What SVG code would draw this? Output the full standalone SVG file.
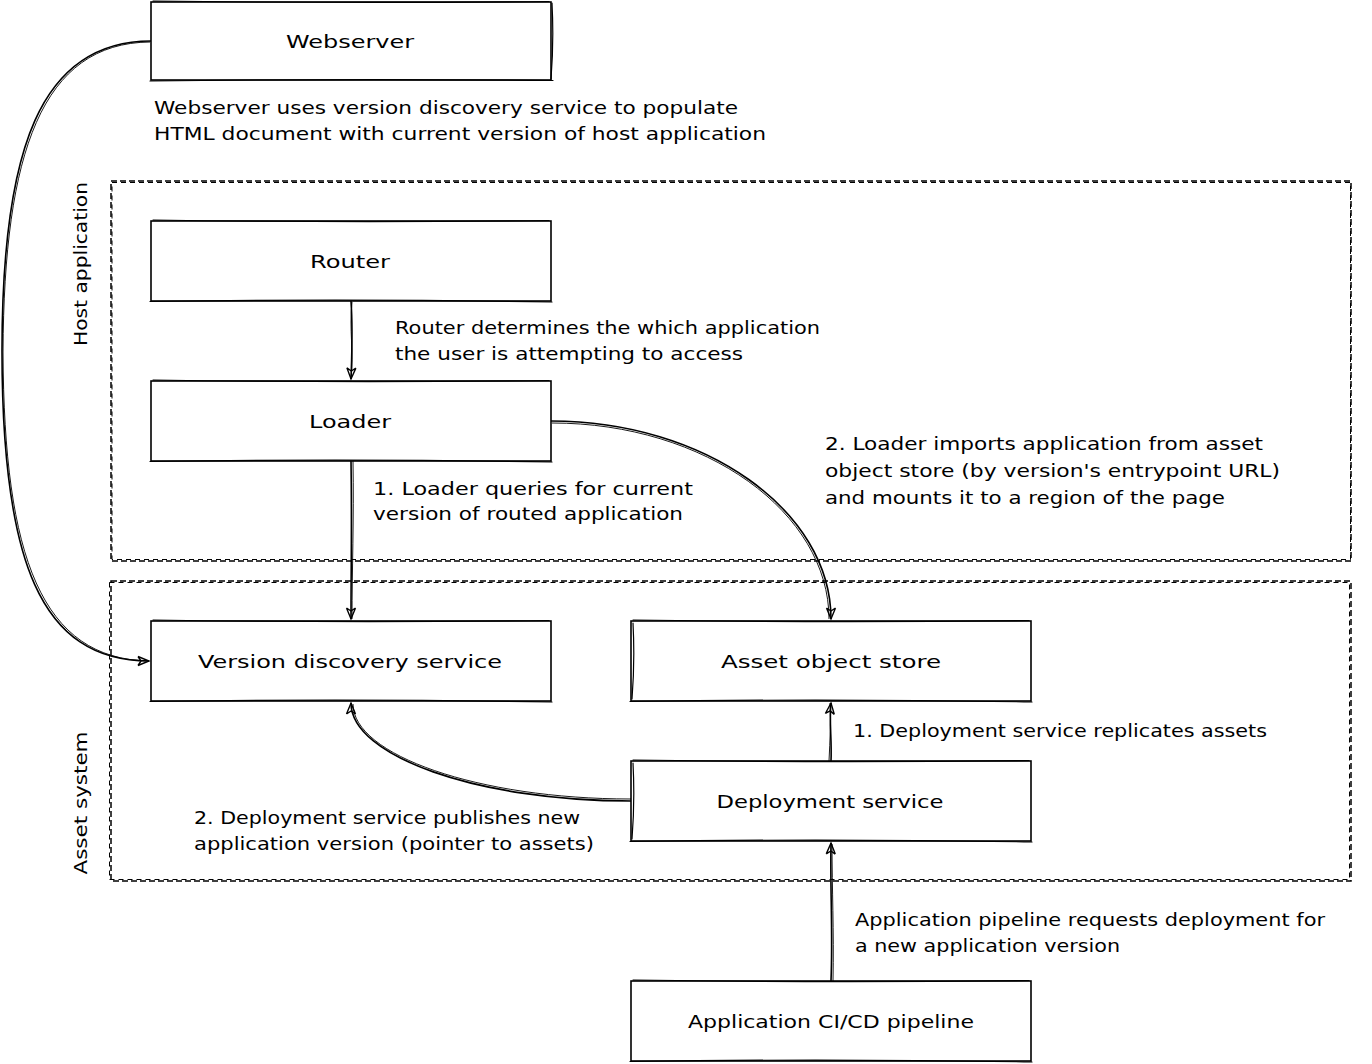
<svg xmlns="http://www.w3.org/2000/svg" width="1372" height="1064" viewBox="0 0 1372 1064">
<style>
.bg{fill:#fff}
.box{fill:#fff;stroke:#000;stroke-width:1.6}
.sk{fill:none;stroke:#000;stroke-width:1.2;stroke-linecap:round}
.grp{fill:none;stroke:#000;stroke-width:1.5;stroke-dasharray:6 3}
.grp2{fill:none;stroke:#000;stroke-width:1;stroke-dasharray:5 4}
.edge{fill:none;stroke:#000;stroke-width:1.6}
.edge2{fill:none;stroke:#000;stroke-width:0.9}
.t{font-family:"DejaVu Sans","Liberation Sans",sans-serif;font-size:18px;fill:#000}
.c{text-anchor:middle}
</style>
<defs>
<marker id="arr" markerUnits="userSpaceOnUse" markerWidth="14" markerHeight="14" viewBox="0 0 14 14" refX="12" refY="7" orient="auto">
<path d="M1,2.5 L12,7 L1,11.5 M1,2.5 L4,7 L1,11.5" fill="none" stroke="#000" stroke-width="1.4" stroke-linejoin="miter"/>
</marker>
</defs>
<rect class="bg" x="0" y="0" width="1372" height="1064"/>

<g id="group-host">
<rect class="grp" x="111" y="181" width="1240" height="380"/>
<rect class="grp2" x="112" y="182.5" width="1238.5" height="377"/>
<text class="t c" x="87" y="264" transform="rotate(-90 87 264)" textLength="164" lengthAdjust="spacingAndGlyphs">Host application</text>
</g>
<g id="group-asset">
<rect class="grp" x="111" y="581" width="1240" height="300"/>
<rect class="grp2" x="109.5" y="582.5" width="1240" height="297"/>
<text class="t c" x="87" y="803" transform="rotate(-90 87 803)" textLength="143" lengthAdjust="spacingAndGlyphs">Asset system</text>
</g>

<g id="connectors">
<path class="edge" d="M151,41 C40,41 2,150 2,351 C2,560 40,661 149,661" marker-end="url(#arr)"/>
<path class="edge2" d="M150,42 C42,43 4,152 3,352 C4,558 42,659 149,661"/>
<path class="edge" d="M351,301 C353,330 352,350 351,379" marker-end="url(#arr)"/>
<path class="edge2" d="M352,302 C349,330 354,352 351,379"/>
<path class="edge" d="M351,461 C352,520 351,570 351,619" marker-end="url(#arr)"/>
<path class="edge2" d="M353,461 C354,520 352,570 352,619"/>
<path class="edge" d="M551,421 C705,421 831,511 831,619" marker-end="url(#arr)"/>
<path class="edge2" d="M552,423 C706,423 829,513 829,619"/>
<path class="edge" d="M831,761 C832,740 829,722 831,703" marker-end="url(#arr)"/>
<path class="edge2" d="M829,761 C830,740 831,722 830,703"/>
<path class="edge" d="M631,801 C477,801 351,756 351,703" marker-end="url(#arr)"/>
<path class="edge2" d="M631,799 C478,799 353,755 353,704"/>
<path class="edge" d="M831,981 C833,930 830,890 831,843" marker-end="url(#arr)"/>
<path class="edge2" d="M833,981 C834,930 832,890 832,844"/>
</g>

<g id="node-webserver">
<rect class="box" x="151" y="2" width="400" height="78"/>
<path class="sk" d="M153,1 Q351,3.5 549,1.5 M150,81 Q351,78.5 553,80.5 M552,3 Q554,41 551,79"/>
<text class="t c" x="350" y="47.5" textLength="128" lengthAdjust="spacingAndGlyphs">Webserver</text>
</g>
<g id="label-webserver">
<text class="t" x="154" y="113.5" textLength="584" lengthAdjust="spacingAndGlyphs">Webserver uses version discovery service to populate</text>
<text class="t" x="154" y="139.5" textLength="612" lengthAdjust="spacingAndGlyphs">HTML document with current version of host application</text>
</g>

<g id="node-router">
<rect class="box" x="151" y="221" width="400" height="80"/>
<path class="sk" d="M153,220 Q351,223 549,220.5 M150,301.5 Q351,298.5 552,302"/>
<text class="t c" x="350" y="267.5" textLength="80" lengthAdjust="spacingAndGlyphs">Router</text>
</g>
<g id="label-router">
<text class="t" x="395" y="333.5" textLength="425" lengthAdjust="spacingAndGlyphs">Router determines the which application</text>
<text class="t" x="395" y="359.5" textLength="348" lengthAdjust="spacingAndGlyphs">the user is attempting to access</text>
</g>

<g id="node-loader">
<rect class="box" x="151" y="381" width="400" height="80"/>
<path class="sk" d="M153,380 Q351,383 549,380.5 M150,461.5 Q351,458.5 552,462"/>
<text class="t c" x="350" y="427.5" textLength="82" lengthAdjust="spacingAndGlyphs">Loader</text>
</g>
<g id="label-loader-query">
<text class="t" x="373" y="494.5" textLength="320" lengthAdjust="spacingAndGlyphs">1. Loader queries for current</text>
<text class="t" x="373" y="519.5" textLength="310" lengthAdjust="spacingAndGlyphs">version of routed application</text>
</g>
<g id="label-loader-import">
<text class="t" x="825" y="449.5" textLength="438" lengthAdjust="spacingAndGlyphs">2. Loader imports application from asset</text>
<text class="t" x="825" y="476.5" textLength="455" lengthAdjust="spacingAndGlyphs">object store (by version's entrypoint URL)</text>
<text class="t" x="825" y="503.5" textLength="400" lengthAdjust="spacingAndGlyphs">and mounts it to a region of the page</text>
</g>

<g id="node-version-discovery">
<rect class="box" x="151" y="621" width="400" height="80"/>
<path class="sk" d="M153,620 Q351,623 549,620.5 M150,701.5 Q351,698.5 552,702"/>
<text class="t c" x="350" y="667.5" textLength="304" lengthAdjust="spacingAndGlyphs">Version discovery service</text>
</g>
<g id="node-asset-store">
<rect class="box" x="631" y="621" width="400" height="80"/>
<path class="sk" d="M633,620 Q831,623 1029,620.5 M630,701.5 Q831,698.5 1032,702 M633,623 Q635,661 632,699"/>
<text class="t c" x="831" y="667.5" textLength="220" lengthAdjust="spacingAndGlyphs">Asset object store</text>
</g>

<g id="node-deployment">
<rect class="box" x="631" y="761" width="400" height="80"/>
<path class="sk" d="M633,760 Q831,763 1029,760.5 M630,841.5 Q831,838.5 1032,842 M633,763 Q635,801 632,839"/>
<text class="t c" x="830" y="807.5" textLength="227" lengthAdjust="spacingAndGlyphs">Deployment service</text>
</g>
<g id="label-replicates">
<text class="t" x="853" y="736.5" textLength="414" lengthAdjust="spacingAndGlyphs">1. Deployment service replicates assets</text>
</g>
<g id="label-publishes">
<text class="t" x="194" y="823.5" textLength="386" lengthAdjust="spacingAndGlyphs">2. Deployment service publishes new</text>
<text class="t" x="194" y="849.5" textLength="400" lengthAdjust="spacingAndGlyphs">application version (pointer to assets)</text>
</g>

<g id="node-cicd">
<rect class="box" x="631" y="981" width="400" height="80"/>
<path class="sk" d="M633,980 Q831,983 1029,980.5 M630,1061.5 Q831,1058.5 1032,1062"/>
<text class="t c" x="831" y="1027.5" textLength="286" lengthAdjust="spacingAndGlyphs">Application CI/CD pipeline</text>
</g>
<g id="label-pipeline">
<text class="t" x="855" y="925.5" textLength="470" lengthAdjust="spacingAndGlyphs">Application pipeline requests deployment for</text>
<text class="t" x="855" y="951.5" textLength="265" lengthAdjust="spacingAndGlyphs">a new application version</text>
</g>
</svg>
